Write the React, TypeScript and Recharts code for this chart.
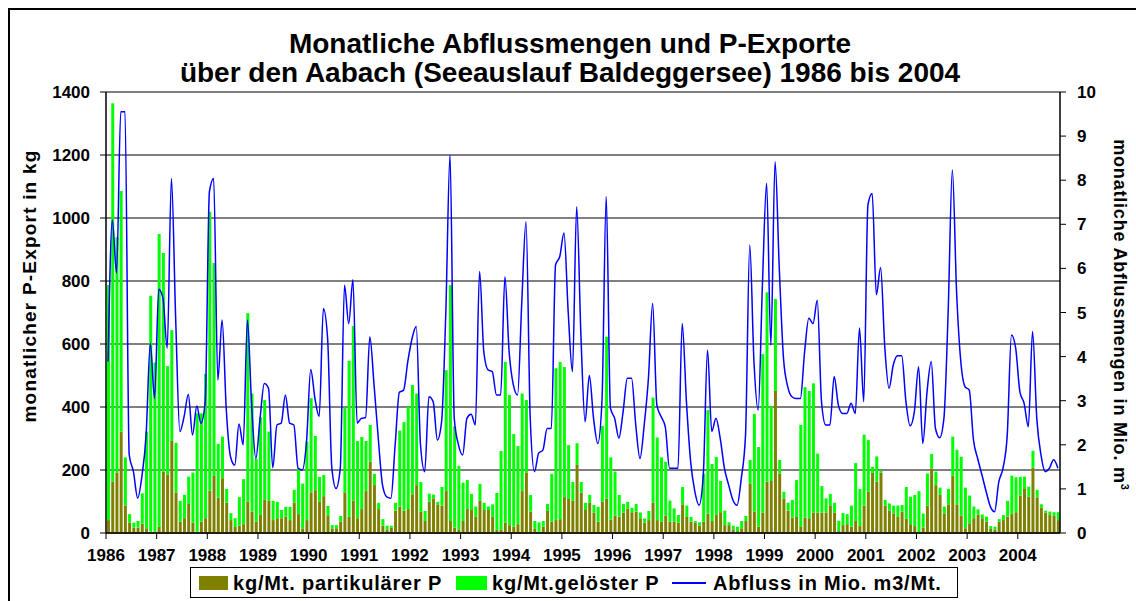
import React from 'react';
import { ComposedChart, Bar, Line, XAxis, YAxis, CartesianGrid } from 'recharts';

const FONT = '"Liberation Sans", Arial, sans-serif';

const YEARS = [1986, 1987, 1988, 1989, 1990, 1991, 1992, 1993, 1994, 1995, 1996, 1997, 1998, 1999, 2000, 2001, 2002, 2003, 2004];
const LEFT_TICKS = [0, 200, 400, 600, 800, 1000, 1200, 1400];
const RIGHT_TICKS = [0, 1, 2, 3, 4, 5, 6, 7, 8, 9, 10];

// kg/Mt. partikulärer P, Jan 1986 - Okt 2004
const partikulaer = [
  41, 163, 192, 322, 87, 33, 17, 17, 30, 15, 4, 4,
  20, 195, 186, 292, 129, 36, 47, 92, 33, 4, 36, 47,
  134, 181, 112, 174, 96, 41, 19, 23, 28, 99, 68, 36,
  57, 105, 102, 41, 47, 47, 52, 41, 96, 60, 13, 41,
  129, 136, 99, 117, 54, 13, 15, 36, 129, 51, 102, 47,
  76, 133, 226, 152, 76, 23, 10, 17, 71, 84, 71, 76,
  123, 152, 67, 38, 99, 110, 91, 87, 133, 38, 17, 10,
  38, 76, 73, 51, 102, 73, 73, 51, 10, 10, 33, 25,
  20, 28, 133, 192, 68, 13, 4, 20, 70, 36, 41, 44,
  114, 108, 102, 216, 128, 73, 96, 65, 36, 99, 109, 42,
  55, 52, 65, 78, 66, 68, 47, 33, 41, 96, 41, 36,
  55, 36, 36, 33, 91, 51, 36, 33, 23, 36, 61, 38,
  57, 66, 25, 25, 10, 6, 15, 38, 156, 68, 20, 65,
  163, 165, 451, 188, 110, 71, 49, 51, 19, 49, 47, 65,
  65, 65, 65, 86, 65, 6, 25, 28, 20, 38, 22, 87,
  131, 192, 163, 192, 87, 71, 62, 51, 68, 46, 28, 22,
  2, 17, 87, 205, 152, 121, 61, 91, 182, 91, 55, 15,
  31, 47, 59, 47, 36, 13, 11, 36, 41, 52, 60, 66,
  119, 142, 115, 207, 113, 80, 65, 57, 55, 41,
];

// kg/Mt. gelöster P
const geloest = [
  746, 1201, 747, 764, 153, 27, 16, 21, 96, 307, 749, 537,
  929, 694, 344, 352, 157, 66, 74, 87, 159, 376, 344, 458,
  886, 676, 171, 132, 44, 22, 28, 91, 143, 599, 375, 199,
  310, 317, 220, 61, 52, 26, 31, 42, 41, 145, 144, 249,
  299, 172, 79, 67, 32, 12, 10, 18, 269, 496, 555, 245,
  229, 159, 117, 36, 20, 21, 13, 6, 25, 241, 281, 324,
  347, 291, 95, 32, 26, 12, 8, 59, 384, 749, 321, 203,
  122, 92, 51, 33, 54, 23, 11, 40, 117, 250, 510, 413,
  294, 248, 310, 230, 53, 25, 30, 18, 22, 152, 482, 499,
  413, 171, 60, 69, 34, 23, 25, 24, 47, 241, 514, 198,
  140, 69, 27, 21, 14, 24, 18, 13, 29, 334, 262, 204,
  171, 67, 42, 24, 55, 36, 15, 5, 11, 152, 329, 181,
  184, 99, 46, 9, 13, 14, 23, 16, 76, 310, 253, 503,
  601, 238, 292, 44, 21, 25, 56, 117, 324, 414, 404, 410,
  187, 84, 45, 38, 31, 33, 38, 32, 67, 184, 118, 225,
  164, 18, 80, 6, 18, 23, 25, 36, 21, 100, 87, 99,
  131, 45, 102, 46, 43, 23, 23, 49, 124, 173, 187, 129,
  88, 37, 16, 12, 16, 9, 9, 8, 16, 50, 122, 111,
  59, 37, 32, 54, 24, 11, 6, 11, 11, 25,
];

// Abfluss in Mio. m3/Mt.
const abfluss = [
  3.89, 7.1, 5.89, 9.55, 9.55, 1.77, 1.39, 0.79, 1.28, 2.22, 4.3, 3.05,
  5.53, 5.32, 4.19, 8.04, 4.87, 2.3, 2.64, 3.14, 2.22, 2.88, 2.49, 2.98,
  7.74, 8.04, 3.47, 4.83, 2.79, 1.73, 1.54, 2.47, 2.0, 4.83, 2.9, 1.69,
  2.6, 3.39, 3.28, 1.48, 2.45, 2.49, 3.13, 2.49, 2.45, 1.47, 1.43, 2.07,
  3.71, 3.05, 2.64, 5.09, 4.41, 1.47, 1.01, 1.47, 5.62, 4.75, 5.74, 2.49,
  2.6, 2.62, 4.45, 3.36, 2.15, 1.09, 0.82, 0.79, 2.0, 3.19, 3.24, 3.89,
  4.41, 4.68, 2.0, 1.39, 3.09, 2.98, 2.11, 2.52, 5.0, 8.57, 2.6, 2.0,
  1.77, 2.6, 2.69, 2.45, 5.93, 4.11, 3.7, 3.66, 3.13, 3.13, 5.81, 4.11,
  3.36, 3.13, 5.24, 7.06, 2.6, 1.39, 1.81, 1.88, 2.37, 2.37, 6.08, 6.27,
  6.8, 5.0, 3.66, 7.4, 4.5, 2.52, 3.57, 2.6, 2.03, 3.0, 7.63, 2.83,
  2.6, 2.15, 2.75, 3.51, 3.51, 2.45, 1.69, 2.45, 3.51, 5.21, 2.9, 2.64,
  2.4, 1.47, 1.47, 1.47, 4.75, 2.98, 1.62, 0.94, 0.63, 1.32, 4.15, 2.3,
  2.6, 2.15, 1.47, 1.09, 0.75, 0.63, 1.24, 2.22, 6.53, 3.89, 2.79, 5.62,
  7.93, 4.26, 8.42, 6.0, 3.96, 3.32, 3.09, 3.05, 3.05, 4.11, 4.87, 4.75,
  5.28, 2.98, 2.45, 2.45, 3.55, 2.9, 2.71, 2.71, 2.94, 2.71, 4.65, 2.98,
  7.44, 7.7, 5.4, 6.02, 4.2, 3.28, 3.81, 4.02, 4.02, 2.98, 2.43, 2.75,
  3.77, 2.03, 3.2, 3.89, 2.37, 2.16, 2.6, 5.0, 8.23, 5.47, 3.89, 3.32,
  3.24, 2.11, 1.69, 1.32, 0.94, 0.6, 0.48, 1.16, 1.47, 2.22, 4.49, 4.19,
  3.2, 2.94, 2.41, 4.57, 2.6, 1.77, 1.39, 1.47, 1.66, 1.47,
];

const data = abfluss.map((q, i) => ({
  x: i + 0.5,
  partikulaer: partikulaer[i],
  geloest: geloest[i],
  abfluss: q,
}));

const yearTicks = YEARS.map((_, i) => i * 12);

const tickStyle = { fill: '#000', fontSize: 17, fontWeight: 700, fontFamily: FONT };

const legendText = { position: 'absolute' as const, top: 4, fontSize: 20, letterSpacing: 0.8, lineHeight: '22px' };

export default function App() {
  return (
    <div style={{ position: 'absolute', left: 0, top: 0, width: 1136, height: 601, background: '#fff', overflow: 'hidden', fontFamily: FONT, fontWeight: 700, color: '#000' }}>
      <div style={{ position: 'absolute', left: 8, top: 8, width: 1140, height: 600, borderLeft: '2px solid #000', borderTop: '2px solid #000' }} />

      <div style={{ position: 'absolute', left: 0, top: 29, width: 1140, textAlign: 'center', fontSize: 28, lineHeight: '29px' }}>
        Monatliche Abflussmengen und P-Exporte
        <br />
        über den Aabach (Seeauslauf Baldeggersee) 1986 bis 2004
      </div>

      <div style={{ position: 'absolute', left: 0, top: 0 }}>
        <ComposedChart
          width={1136}
          height={601}
          data={data}
          margin={{ top: 92, right: 0, bottom: 38, left: 0 }}
        >
          <CartesianGrid yAxisId="left" vertical={false} stroke="#000" strokeWidth={1} />
          <XAxis
            dataKey="x"
            type="number"
            domain={[0, 226]}
            ticks={yearTicks}
            interval={0}
            tickFormatter={(v: number) => String(1986 + v / 12)}
            height={30}
            axisLine={{ stroke: '#000', strokeWidth: 1.5 }}
            tickLine={{ stroke: '#000' }}
            tickSize={6}
            tickMargin={10}
            tick={tickStyle}
          />
          <YAxis
            yAxisId="left"
            orientation="left"
            width={106}
            domain={[0, 1400]}
            ticks={LEFT_TICKS}
            interval={0}
            axisLine={{ stroke: '#000', strokeWidth: 1.5 }}
            tickLine={{ stroke: '#000' }}
            tickSize={6}
            tickMargin={10}
            tick={tickStyle}
          />
          <YAxis
            yAxisId="right"
            orientation="right"
            width={76}
            domain={[0, 10]}
            ticks={RIGHT_TICKS}
            interval={0}
            axisLine={{ stroke: '#000', strokeWidth: 1.5 }}
            tickLine={{ stroke: '#000' }}
            tickSize={6}
            tickMargin={11}
            tick={tickStyle}
          />
          <Bar yAxisId="left" dataKey="partikulaer" stackId="p" fill="#808000" barSize={3} isAnimationActive={false} />
          <Bar yAxisId="left" dataKey="geloest" stackId="p" fill="#00ff00" barSize={3} isAnimationActive={false} />
          <Line
            yAxisId="right"
            dataKey="abfluss"
            type="monotone"
            stroke="#0000ff"
            strokeWidth={1.5}
            dot={false}
            isAnimationActive={false}
          />
        </ComposedChart>
      </div>

      <div style={{ position: 'absolute', left: 30, top: 286, transform: 'translate(-50%, -50%) rotate(-90deg)', whiteSpace: 'nowrap', fontSize: 19, letterSpacing: 1.2 }}>
        monatlicher P-Export in kg
      </div>
      <div style={{ position: 'absolute', left: 1120, top: 315, transform: 'translate(-50%, -50%) rotate(90deg)', whiteSpace: 'nowrap', fontSize: 18, letterSpacing: 0.8 }}>
        monatliche Abflussmengen in Mio. m<sup style={{ fontSize: 11 }}>3</sup>
      </div>

      <div style={{ position: 'absolute', left: 190, top: 567, width: 768, height: 31, boxSizing: 'border-box', border: '1px solid #000', whiteSpace: 'nowrap' }}>
        <span style={{ position: 'absolute', left: 8, top: 8, width: 29, height: 14, background: '#808000' }} />
        <span style={{ ...legendText, left: 42 }}>kg/Mt. partikulärer P</span>
        <span style={{ position: 'absolute', left: 265, top: 8, width: 31, height: 14, background: '#00ff00' }} />
        <span style={{ ...legendText, left: 301 }}>kg/Mt.gelöster P</span>
        <span style={{ position: 'absolute', left: 481, top: 14, width: 34, height: 2, background: '#0000ff' }} />
        <span style={{ ...legendText, left: 522 }}>Abfluss in Mio. m3/Mt.</span>
      </div>
    </div>
  );
}
